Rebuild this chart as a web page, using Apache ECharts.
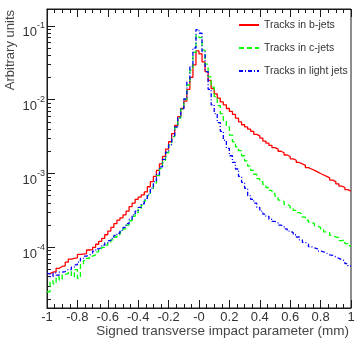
<!DOCTYPE html>
<html>
<head>
<meta charset="utf-8">
<script src="https://cdn.jsdelivr.net/npm/echarts@6/dist/echarts.min.js"></script>
<style>
  html, body { margin: 0; padding: 0; background: #ffffff; }
  #chart { width: 362px; height: 346px; }
</style>
</head>
<body>
<div id="chart"></div>
<script>
// Histogram binning: 100 equal bins over [-1, 1] mm
const xMin = -1;
const xMax = 1;
const nBins = 100;

const seriesNames = ['Tracks in b-jets', 'Tracks in c-jets', 'Tracks in light jets'];

// Normalised track densities per bin (bin centres -0.99 ... 0.99)
const bJets = [
  4.4e-5, 4.6e-5, 4.7e-5, 5.2e-5, 5.5e-5, 5.6e-5, 6.3e-5, 6.9e-5, 7.1e-5, 7.2e-5,
  8.0e-5, 8.1e-5, 8.2e-5, 9.2e-5, 9.3e-5, 1.0e-4, 1.10e-4, 1.20e-4, 1.32e-4, 1.48e-4,
  1.66e-4, 1.86e-4, 2.09e-4, 2.34e-4, 2.51e-4, 2.75e-4, 3.09e-4, 3.55e-4, 3.98e-4, 4.47e-4,
  4.79e-4, 5.13e-4, 5.62e-4, 6.61e-4, 7.76e-4, 9.12e-4, 1.10e-3, 1.35e-3, 1.70e-3, 2.14e-3,
  2.69e-3, 3.47e-3, 4.47e-3, 5.89e-3, 7.59e-3, 9.55e-3, 1.38e-2, 2.00e-2, 2.95e-2, 4.57e-2,
  4.17e-2, 3.24e-2, 2.40e-2, 1.82e-2, 1.41e-2, 1.20e-2, 1.05e-2, 9.33e-3, 8.51e-3, 7.59e-3,
  6.92e-3, 6.31e-3, 5.62e-3, 5.01e-3, 4.57e-3, 4.27e-3, 3.98e-3, 3.72e-3, 3.39e-3, 3.24e-3,
  3.02e-3, 2.75e-3, 2.57e-3, 2.40e-3, 2.24e-3, 2.14e-3, 2.00e-3, 1.91e-3, 1.78e-3, 1.70e-3,
  1.58e-3, 1.51e-3, 1.41e-3, 1.35e-3, 1.29e-3, 1.20e-3, 1.15e-3, 1.10e-3, 1.05e-3, 1.00e-3,
  9.55e-4, 9.12e-4, 8.71e-4, 8.13e-4, 7.76e-4, 7.24e-4, 6.76e-4, 6.46e-4, 6.03e-4, 5.75e-4
];

const cJets = [
  2.5e-5, 3.5e-5, 3.2e-5, 4.0e-5, 3.6e-5, 4.3e-5, 4.4e-5, 4.7e-5, 4.0e-5, 5.0e-5,
  3.8e-5, 6.0e-5, 6.6e-5, 7.1e-5, 7.6e-5, 7.9e-5, 8.7e-5, 9.3e-5, 1.00e-4, 1.07e-4,
  1.15e-4, 1.26e-4, 1.38e-4, 1.48e-4, 1.62e-4, 1.78e-4, 2.00e-4, 2.29e-4, 2.63e-4, 2.95e-4,
  3.31e-4, 3.72e-4, 4.27e-4, 5.01e-4, 6.03e-4, 7.41e-4, 9.33e-4, 1.17e-3, 1.51e-3, 1.91e-3,
  2.45e-3, 3.16e-3, 4.17e-3, 5.62e-3, 7.41e-3, 1.00e-2, 1.58e-2, 2.51e-2, 4.37e-2, 7.41e-2,
  6.92e-2, 4.68e-2, 3.02e-2, 2.04e-2, 1.48e-2, 1.10e-2, 8.32e-3, 6.46e-3, 5.25e-3, 4.27e-3,
  3.31e-3, 2.69e-3, 2.29e-3, 2.04e-3, 1.74e-3, 1.48e-3, 1.26e-3, 1.10e-3, 9.77e-4, 8.51e-4,
  7.76e-4, 7.08e-4, 6.46e-4, 5.89e-4, 5.37e-4, 4.90e-4, 4.37e-4, 4.17e-4, 3.80e-4, 3.63e-4,
  3.39e-4, 3.16e-4, 2.95e-4, 2.82e-4, 2.57e-4, 2.34e-4, 2.19e-4, 2.09e-4, 1.95e-4, 1.86e-4,
  1.74e-4, 1.62e-4, 1.58e-4, 1.45e-4, 1.38e-4, 1.35e-4, 1.23e-4, 1.26e-4, 1.12e-4, 1.05e-4
];

const lightJets = [
  4.4e-5, 4.0e-5, 4.5e-5, 4.2e-5, 4.6e-5, 4.7e-5, 5.0e-5, 5.0e-5, 5.4e-5, 5.8e-5,
  6.3e-5, 7.1e-5, 7.6e-5, 7.9e-5, 8.3e-5, 8.9e-5, 9.5e-5, 1.00e-4, 1.07e-4, 1.15e-4,
  1.23e-4, 1.32e-4, 1.45e-4, 1.55e-4, 1.70e-4, 1.86e-4, 2.09e-4, 2.40e-4, 2.75e-4, 3.09e-4,
  3.47e-4, 3.89e-4, 4.47e-4, 5.25e-4, 6.31e-4, 7.76e-4, 9.77e-4, 1.23e-3, 1.55e-3, 1.95e-3,
  2.45e-3, 3.24e-3, 4.27e-3, 5.75e-3, 7.59e-3, 1.02e-2, 1.74e-2, 2.82e-2, 5.01e-2, 8.91e-2,
  7.94e-2, 4.47e-2, 2.40e-2, 1.38e-2, 8.51e-3, 6.46e-3, 4.90e-3, 3.72e-3, 2.82e-3, 2.19e-3,
  1.74e-3, 1.41e-3, 1.15e-3, 9.12e-4, 7.59e-4, 6.31e-4, 5.01e-4, 4.47e-4, 3.98e-4, 3.47e-4,
  3.09e-4, 2.82e-4, 2.63e-4, 2.40e-4, 2.24e-4, 2.14e-4, 2.00e-4, 1.91e-4, 1.78e-4, 1.66e-4,
  1.58e-4, 1.48e-4, 1.38e-4, 1.26e-4, 1.17e-4, 1.10e-4, 1.02e-4, 9.8e-5, 9.5e-5, 8.9e-5,
  8.7e-5, 8.3e-5, 7.9e-5, 7.8e-5, 7.4e-5, 7.1e-5, 6.8e-5, 6.5e-5, 6.0e-5, 5.6e-5
];

// Axis ticks and labels
const xTickLabels = ['-1', '-0.8', '-0.6', '-0.4', '-0.2', '-0', '0.2', '0.4', '0.6', '0.8', '1'];
const xTickStep = 0.2;
const yDecadeExponents = [-4, -3, -2, -1];

// Visible vertical range, in log10 units
const yLogMin = -4.822;
const yLogMax = -0.772;

const FONT = '"Liberation Sans", Arial, Helvetica, sans-serif';
const TEXT = '#333333';
const FRAME = '#1a1a1a';

// Histogram outline: one point per lower bin edge plus the closing edge
function toSteps(values) {
  const w = (xMax - xMin) / nBins;
  const pts = values.map((v, i) => [xMin + i * w, Math.log10(v)]);
  pts.push([xMax, Math.log10(values[values.length - 1])]);
  return pts;
}

// Minor ticks of the log axis at 2..9 x 10^n
const minorLogTicks = [];
for (let e = -5; e <= -1; e++) {
  for (let k = 2; k <= 9; k++) {
    const t = e + Math.log10(k);
    if (t > yLogMin && t < yLogMax) minorLogTicks.push(t);
  }
}

const chart = echarts.init(document.getElementById('chart'), null, { renderer: 'canvas' });

const xAxisBase = {
  type: 'value',
  min: xMin,
  max: xMax,
  interval: xTickStep,
  splitLine: { show: false },
  axisLine: { show: true, onZero: false, lineStyle: { color: FRAME, width: 1 } },
  axisTick: { show: true, inside: true, length: 8, lineStyle: { color: FRAME, width: 1 } },
  minorTick: { show: true, splitNumber: 4, length: 4, lineStyle: { color: FRAME, width: 1 } },
  minorSplitLine: { show: false }
};

chart.setOption({
  animation: false,
  backgroundColor: '#ffffff',
  grid: {
    left: 47, right: 11, top: 9, bottom: 38,
    show: true, borderColor: FRAME, borderWidth: 1, backgroundColor: 'transparent'
  },
  legend: {
    orient: 'vertical',
    left: 238,
    top: 19,
    padding: 0,
    itemWidth: 20,
    itemHeight: 8,
    itemGap: 11,
    selectedMode: false,
    itemStyle: { opacity: 0 },
    textStyle: { fontFamily: FONT, fontSize: 10.5, color: TEXT, lineHeight: 12 },
    data: seriesNames
  },
  xAxis: [
    Object.assign({}, xAxisBase, {
      position: 'bottom',
      axisLabel: {
        show: true,
        margin: 3,
        fontFamily: FONT,
        fontSize: 13,
        color: TEXT,
        formatter: function (v) {
          return xTickLabels[Math.round((v - xMin) / xTickStep)];
        }
      }
    }),
    Object.assign({}, xAxisBase, {
      position: 'top',
      axisLabel: { show: false }
    })
  ],
  yAxis: [
    {
      type: 'value',
      position: 'left',
      min: yLogMin,
      max: yLogMax,
      splitLine: { show: false },
      axisLine: { show: true, onZero: false, lineStyle: { color: FRAME, width: 1 } },
      axisTick: {
        show: true, inside: true, length: 8,
        customValues: yDecadeExponents,
        lineStyle: { color: FRAME, width: 1 }
      },
      axisLabel: {
        show: true,
        margin: 2,
        customValues: yDecadeExponents,
        formatter: function (v) {
          return '{b|10}{s|' + Math.round(v) + '}';
        },
        rich: {
          b: { fontFamily: FONT, fontSize: 13, color: TEXT, lineHeight: 13, padding: [7, 0, 0, 0], verticalAlign: 'top' },
          s: { fontFamily: FONT, fontSize: 9, color: TEXT, lineHeight: 10, padding: [2, 0, 0, 0], verticalAlign: 'top' }
        }
      }
    },
    {
      type: 'value',
      position: 'left',
      offset: 0,
      min: yLogMin,
      max: yLogMax,
      splitLine: { show: false },
      axisLine: { show: false, onZero: false },
      axisLabel: { show: false },
      axisTick: {
        show: true, inside: true, length: 4,
        customValues: minorLogTicks,
        lineStyle: { color: FRAME, width: 1 }
      }
    }
  ],
  graphic: [
    {
      type: 'text',
      x: 10, y: 10,
      rotation: Math.PI / 2,
      style: {
        text: 'Arbitrary units',
        font: '13px ' + FONT,
        fill: '#444444',
        align: 'right', verticalAlign: 'middle',
        textAlign: 'right', textVerticalAlign: 'middle'
      }
    },
    {
      type: 'text',
      x: 349, y: 331,
      style: {
        text: 'Signed transverse impact parameter (mm)',
        font: '13.5px ' + FONT,
        fill: '#444444',
        align: 'right', verticalAlign: 'middle',
        textAlign: 'right', textVerticalAlign: 'middle'
      }
    }
  ],
  series: [
    {
      name: seriesNames[0],
      type: 'line',
      step: 'end',
      symbol: 'none',
      showSymbol: false,
      xAxisIndex: 0, yAxisIndex: 0,
      data: toSteps(bJets),
      lineStyle: { color: '#ff0000', width: 1.3, type: 'solid' },
      itemStyle: { color: '#ff0000' }
    },
    {
      name: seriesNames[1],
      type: 'line',
      step: 'end',
      symbol: 'none',
      showSymbol: false,
      xAxisIndex: 0, yAxisIndex: 0,
      data: toSteps(cJets),
      lineStyle: { color: '#00ff00', width: 1.3, type: [5, 3] },
      itemStyle: { color: '#00ff00' }
    },
    {
      name: seriesNames[2],
      type: 'line',
      step: 'end',
      symbol: 'none',
      showSymbol: false,
      xAxisIndex: 0, yAxisIndex: 0,
      data: toSteps(lightJets),
      lineStyle: { color: '#0000ff', width: 1.3, type: [4, 2, 1, 2] },
      itemStyle: { color: '#0000ff' }
    }
  ]
});
</script>
</body>
</html>
